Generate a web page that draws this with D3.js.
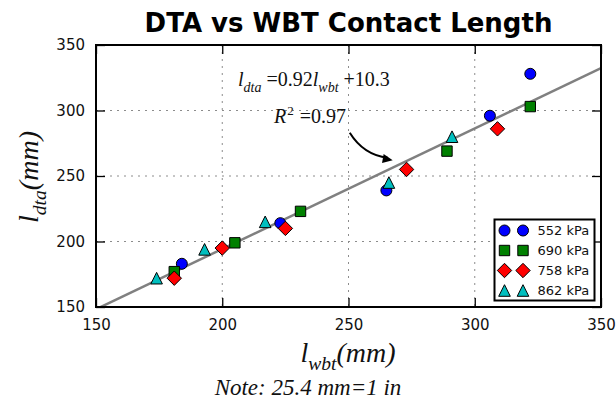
<!DOCTYPE html>
<html><head><meta charset="utf-8">
<script src="https://cdn.jsdelivr.net/npm/d3@7"></script>
<style>body{margin:0;background:#fff}svg{display:block}</style>
</head><body>
<svg id="chart" width="616" height="405"></svg>
<script>
// Contact length measured by DTA against WBT, one series per tire pressure
const seriesNames = ["552 kPa", "690 kPa", "758 kPa", "862 kPa"];
const wbt552 = [184, 223, 265, 306, 322];
const dta552 = [183, 214, 239, 296, 328];
const wbt690 = [181, 205, 231, 289, 322];
const dta690 = [177, 199, 223, 269, 303];
const wbt758 = [181, 200, 225, 273, 309];
const dta758 = [172, 195, 210, 255, 286];
const wbt862 = [174, 193, 217, 266, 291];
const dta862 = [172, 194, 215, 245, 280];
const fitSlope = 0.92;
const fitIntercept = 10.3;
const rSquared = 0.97;
const xTicks = [150, 200, 250, 300, 350];
const yTicks = [150, 200, 250, 300, 350];

const series = [
  {name: seriesNames[0], x: wbt552, y: dta552, shape: "circle", color: "#0000ff"},
  {name: seriesNames[1], x: wbt690, y: dta690, shape: "square", color: "#008000"},
  {name: seriesNames[2], x: wbt758, y: dta758, shape: "diamond", color: "#ff0000"},
  {name: seriesNames[3], x: wbt862, y: dta862, shape: "triangle", color: "#00bfbf"}
];

const svg = d3.select("#chart");
const pL = 96, pR = 601, pT = 45, pB = 307;
const x = d3.scaleLinear().domain([150, 350]).range([pL, pR]);
const y = d3.scaleLinear().domain([150, 350]).range([pB, pT]);

// marker outlines, drawn around the origin
const shapes = {
  circle: {draw(c) { c.moveTo(5.5, 0); c.arc(0, 0, 5.5, 0, 2 * Math.PI); }},
  square: {draw(c) { const h = 5.2; c.moveTo(-h, -h); c.lineTo(h, -h); c.lineTo(h, h); c.lineTo(-h, h); c.closePath(); }},
  diamond: {draw(c) { const h = 7.2; c.moveTo(0, -h); c.lineTo(h, 0); c.lineTo(0, h); c.lineTo(-h, 0); c.closePath(); }},
  triangle: {draw(c) { const h = 5.8; c.moveTo(0, -h); c.lineTo(h, h); c.lineTo(-h, h); c.closePath(); }}
};
const symbolPath = s => d3.symbol().type(shapes[s])();

svg.append("rect").attr("width", 616).attr("height", 405).attr("fill", "#fff");

svg.append("defs").append("clipPath").attr("id", "plotClip")
  .append("rect").attr("x", pL).attr("y", pT)
  .attr("width", pR - pL).attr("height", pB - pT);

// dotted grid
const grid = svg.append("g").attr("stroke", "#8c8c8c").attr("stroke-width", 1)
  .attr("stroke-dasharray", "2,5");
grid.selectAll("line.gx").data(xTicks.slice(1, -1)).join("line")
  .attr("x1", d => x(d)).attr("x2", d => x(d)).attr("y1", pT).attr("y2", pB);
grid.selectAll("line.gy").data(yTicks.slice(1, -1)).join("line")
  .attr("y1", d => y(d)).attr("y2", d => y(d)).attr("x1", pL).attr("x2", pR);

// fitted line
const fitLine = d3.line().x(d => x(d)).y(d => y(fitSlope * d + fitIntercept));
svg.append("path").attr("clip-path", "url(#plotClip)")
  .attr("d", fitLine([150, 350]))
  .attr("fill", "none").attr("stroke", "#808080").attr("stroke-width", 2.5);

// points
series.forEach(s => {
  svg.append("g").selectAll("path").data(s.x.map((v, i) => [v, s.y[i]])).join("path")
    .attr("d", symbolPath(s.shape))
    .attr("transform", d => `translate(${x(d[0])},${y(d[1])})`)
    .attr("fill", s.color).attr("stroke", "#000").attr("stroke-width", 1);
});

// axes: ticks inward on all four sides
const tickLen = 9;
const axG = svg.append("g");
axG.append("g").attr("transform", `translate(0,${pB})`)
  .call(d3.axisBottom(x).tickValues(xTicks).tickSize(-tickLen).tickPadding(12).tickFormat(d3.format("d")));
axG.append("g").attr("transform", `translate(0,${pT})`)
  .call(d3.axisTop(x).tickValues(xTicks).tickSize(-tickLen).tickFormat(""));
axG.append("g").attr("transform", `translate(${pL},0)`)
  .call(d3.axisLeft(y).tickValues(yTicks).tickSize(-tickLen).tickPadding(11).tickFormat(d3.format("d")));
axG.append("g").attr("transform", `translate(${pR},0)`)
  .call(d3.axisRight(y).tickValues(yTicks).tickSize(-tickLen).tickFormat(""));
axG.selectAll(".domain").remove();
axG.selectAll(".tick line").attr("stroke", "#000").attr("stroke-width", 1.3);
axG.selectAll(".tick text").attr("font-family", "DejaVu Sans").attr("font-size", 15).attr("fill", "#111");
svg.append("rect").attr("x", pL).attr("y", pT).attr("width", pR - pL).attr("height", pB - pT)
  .attr("fill", "none").attr("stroke", "#000").attr("stroke-width", 2);

// title
svg.append("text").attr("x", (pL + pR) / 2).attr("y", 32).attr("text-anchor", "middle")
  .attr("font-family", "DejaVu Sans").attr("font-weight", "bold").attr("font-size", 26)
  .text("DTA vs WBT Contact Length");

// math-style text: pieces are [text, italic, subscript]
function mathText(sel, parts, size) {
  const t = sel.attr("font-family", "Liberation Serif").attr("font-size", size).attr("fill", "#111");
  let sub = false;
  parts.forEach(([txt, it, isSub]) => {
    const ts = t.append("tspan").text(txt).attr("font-style", it ? "italic" : "normal");
    if (isSub) ts.attr("font-size", size * 0.7);
    if (isSub && !sub) ts.attr("dy", size * 0.28);
    if (!isSub && sub) ts.attr("dy", -size * 0.28);
    sub = isSub;
  });
  return t;
}

// regression annotation
mathText(svg.append("text").attr("x", 238).attr("y", 86),
  [["l", true, false], ["dta", true, true], [" =0.92", false, false], ["l", true, false], ["wbt", true, true], [" +10.3", false, false]], 20);
const r2 = svg.append("text").attr("x", 274).attr("y", 123)
  .attr("font-family", "Liberation Serif").attr("font-size", 20).attr("fill", "#111");
r2.append("tspan").attr("font-style", "italic").text("R");
r2.append("tspan").attr("dy", -8).attr("dx", 1).attr("font-size", 13).text("2");
r2.append("tspan").attr("dy", 8).attr("dx", 6).text("=" + rSquared.toFixed(2));

// curved arrow toward the fitted line
const a0 = [x(250.5), y(283)], a1 = [x(267.5), y(262)], ctrl = [x(256), y(266)];
const arrowPath = d3.path();
arrowPath.moveTo(a0[0], a0[1]);
arrowPath.quadraticCurveTo(ctrl[0], ctrl[1], a1[0] - 5, a1[1] - 2.5);
svg.append("path").attr("d", arrowPath.toString()).attr("fill", "none")
  .attr("stroke", "#000").attr("stroke-width", 2);
const ang = Math.atan2(a1[1] - ctrl[1], a1[0] - ctrl[0]);
const hl = 10, hw = 4.5;
const hp = [
  a1,
  [a1[0] - hl * Math.cos(ang) + hw * Math.sin(ang), a1[1] - hl * Math.sin(ang) - hw * Math.cos(ang)],
  [a1[0] - hl * Math.cos(ang) - hw * Math.sin(ang), a1[1] - hl * Math.sin(ang) + hw * Math.cos(ang)]
];
svg.append("path").attr("d", "M" + hp.map(p => p.join(",")).join("L") + "Z").attr("fill", "#000");

// axis labels
mathText(svg.append("text").attr("x", 348).attr("y", 362).attr("text-anchor", "middle"),
  [["l", true, false], ["wbt", true, true], ["(mm)", true, false]], 28);
mathText(svg.append("text").attr("transform", "translate(38,177) rotate(-90)").attr("text-anchor", "middle"),
  [["l", true, false], ["dta", true, true], ["(mm)", true, false]], 28);
svg.append("text").attr("x", 308).attr("y", 395).attr("text-anchor", "middle")
  .attr("font-family", "Liberation Serif").attr("font-style", "italic").attr("font-size", 23)
  .attr("fill", "#111").text("Note: 25.4 mm=1 in");

// legend
const lg = svg.append("g");
lg.append("rect").attr("x", 494.5).attr("y", 219.5).attr("width", 100).attr("height", 81)
  .attr("fill", "#fff").attr("stroke", "#000").attr("stroke-width", 2);
series.forEach((s, i) => {
  const cy = 230.5 + i * 20;
  [504.5, 523].forEach(cx => {
    lg.append("path").attr("d", symbolPath(s.shape)).attr("transform", `translate(${cx},${cy})`)
      .attr("fill", s.color).attr("stroke", "#000").attr("stroke-width", 1);
  });
  lg.append("text").attr("x", 537.5).attr("y", cy + 4.7).attr("font-family", "DejaVu Sans")
    .attr("font-size", 13).attr("fill", "#111").text(s.name);
});
</script>
</body></html>
